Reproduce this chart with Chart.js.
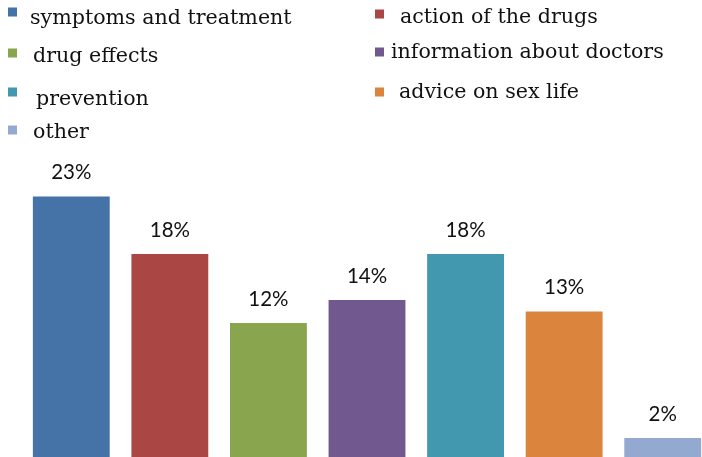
<!DOCTYPE html>
<html>
<head>
<meta charset="utf-8">
<script src="https://cdn.jsdelivr.net/npm/chart.js@4.4.1/dist/chart.umd.min.js"></script>
<style>
  html, body { margin: 0; padding: 0; background: #fff; overflow: hidden; }
  #wrap { position: absolute; left: 0; top: 0; width: 714px; height: 462px; }
</style>
</head>
<body>
<div id="wrap"><canvas id="myChart"></canvas></div>
<script>
const categories = [
  "symptoms and treatment",
  "action of the drugs",
  "drug effects",
  "information about doctors",
  "prevention",
  "advice on sex life",
  "other"
];
const shares = [23, 18, 12, 14, 18, 13, 2];
const colors = ["#4572A7", "#AA4643", "#89A54E", "#71588F", "#4198AF", "#DB843D", "#93A9CF"];

// legend is laid out in two columns, filled row by row
const legendSlots = [
  { col: 0, y: 18.5, box: 12, text: 30 },
  { col: 1, y: 17.5, box: 14, text: 400 },
  { col: 0, y: 56.5, box: 53, text: 33 },
  { col: 1, y: 52.5, box: 52, text: 391 },
  { col: 0, y: 99.5, box: 92, text: 36 },
  { col: 1, y: 92.5, box: 92, text: 399 },
  { col: 0, y: 132.5, box: 130, text: 33 }
];

const legendPlugin = {
  id: "twoColLegend",
  afterDraw(chart) {
    const c = chart.ctx;
    c.save();
    c.font = "20.6px 'DejaVu Serif'";
    c.textBaseline = "middle";
    categories.forEach((name, i) => {
      const s = legendSlots[i];
      const bx = s.col === 0 ? 8 : 375;
      c.fillStyle = colors[i];
      c.fillRect(bx, s.box - 4.5, 9, 9);
      c.fillStyle = "#111";
      c.fillText(name, s.text, s.y);
    });
    c.restore();
  }
};

const valueLabels = {
  id: "valueLabels",
  afterDatasetsDraw(chart) {
    const c = chart.ctx;
    const meta = chart.getDatasetMeta(0);
    c.save();
    c.font = "20.5px Lato";
    c.fillStyle = "#111";
    c.textAlign = "center";
    c.textBaseline = "middle";
    meta.data.forEach((bar, i) => {
      c.fillText(shares[i] + "%", bar.x, bar.y - 23);
    });
    c.restore();
  }
};

new Chart(document.getElementById("myChart"), {
  type: "bar",
  data: {
    labels: categories,
    datasets: [{
      data: shares,
      backgroundColor: colors,
      borderColor: "rgba(255,255,255,0.45)",
      borderWidth: 1,
      barPercentage: 0.8,
      categoryPercentage: 1
    }]
  },
  options: {
    responsive: true,
    maintainAspectRatio: false,
    animation: false,
    layout: { padding: { left: 22, right: 2, top: 172.5, bottom: 2 } },
    plugins: { legend: { display: false }, tooltip: { enabled: false } },
    scales: {
      x: { display: false },
      y: { display: false, min: 0, max: 25 }
    }
  },
  plugins: [legendPlugin, valueLabels]
});
</script>
</body>
</html>
